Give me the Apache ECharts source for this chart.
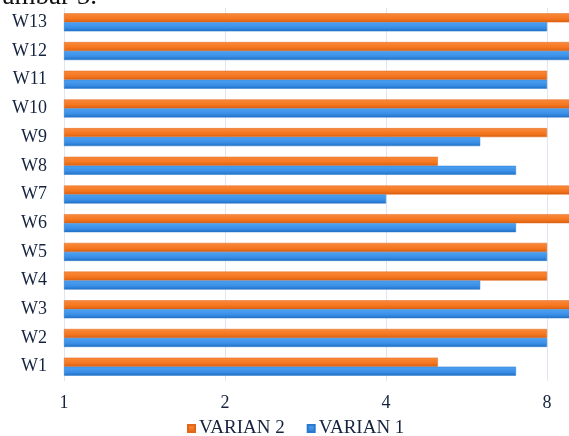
<!DOCTYPE html>
<html>
<head>
<meta charset="utf-8">
<script src="https://cdn.jsdelivr.net/npm/echarts@6/dist/echarts.min.js"></script>
<style>
  html, body { margin: 0; padding: 0; background: #fff; }
  #chart { width: 569px; height: 436px; }
</style>
</head>
<body>
<div id="chart"></div>
<script>
// 数据
const categories = ['W1', 'W2', 'W3', 'W4', 'W5', 'W6', 'W7', 'W8', 'W9', 'W10', 'W11', 'W12', 'W13'];
const varian1 = [7, 8, 10, 6, 8, 7, 4, 7, 6, 10, 8, 10, 8];
const varian2 = [5, 8, 10, 8, 8, 10, 10, 5, 8, 10, 8, 10, 10];
const xTicks = [1, 2, 4, 8, 16];

const textColor = '#15233f';
const serif = '"Liberation Serif", "DejaVu Serif", serif';

// 渐变色：橙色和蓝色
const orangeFill = new echarts.graphic.LinearGradient(0, 0, 0, 1, [
    { offset: 0, color: '#f98a3c' },
    { offset: 0.6, color: '#f5761f' },
    { offset: 1, color: '#d9600f' }
]);
const blueFill = new echarts.graphic.LinearGradient(0, 0, 0, 1, [
    { offset: 0, color: '#4ea2f2' },
    { offset: 0.6, color: '#3a8ee6' },
    { offset: 1, color: '#1f6fc4' }
]);

const chart = echarts.init(document.getElementById('chart'));

const option = {
    animation: false,
    backgroundColor: '#fff',
    title: {
        text: 'Gambar 5.',
        left: -22,
        top: -22,
        textStyle: { fontFamily: serif, fontSize: 27, fontWeight: 'normal', color: '#111' }
    },
    legend: {
        data: ['VARIAN 2', 'VARIAN 1'],
        left: 182,
        top: 414,
        padding: 5,
        itemWidth: 7,
        itemHeight: 7,
        itemGap: 22,
        icon: 'rect',
        textStyle: { fontFamily: serif, fontSize: 19, color: textColor, padding: [1, 0, 0, -1] }
    },
    grid: {
        left: 64,
        right: -139,
        top: 8,
        bottom: 55,
        outerBoundsMode: 'none',
        containLabel: false
    },
    xAxis: {
        type: 'log',
        logBase: 2,
        min: xTicks[0],
        max: xTicks[xTicks.length - 1],
        axisLine: { show: false },
        axisTick: { show: false },
        splitLine: { show: true, lineStyle: { color: '#dfe6f1', width: 1 } },
        axisLabel: {
            margin: 13,
            fontFamily: serif,
            fontSize: 18,
            color: textColor
        }
    },
    yAxis: {
        type: 'category',
        data: categories,
        axisLine: { show: false },
        axisTick: { show: false },
        axisLabel: {
            margin: 17,
            fontFamily: serif,
            fontSize: 18,
            color: textColor
        }
    },
    series: [
        {
            name: 'VARIAN 2',
            type: 'bar',
            data: varian2,
            barWidth: 9,
            barGap: '0%',
            barCategoryGap: '37%',
            itemStyle: { color: orangeFill, borderColor: '#e0671a', borderWidth: 0.5 }
        },
        {
            name: 'VARIAN 1',
            type: 'bar',
            data: varian1,
            barWidth: 9,
            barGap: '0%',
            itemStyle: { color: blueFill, borderColor: '#2a78cc', borderWidth: 0.5 }
        }
    ]
};

chart.setOption(option);
</script>
</body>
</html>
